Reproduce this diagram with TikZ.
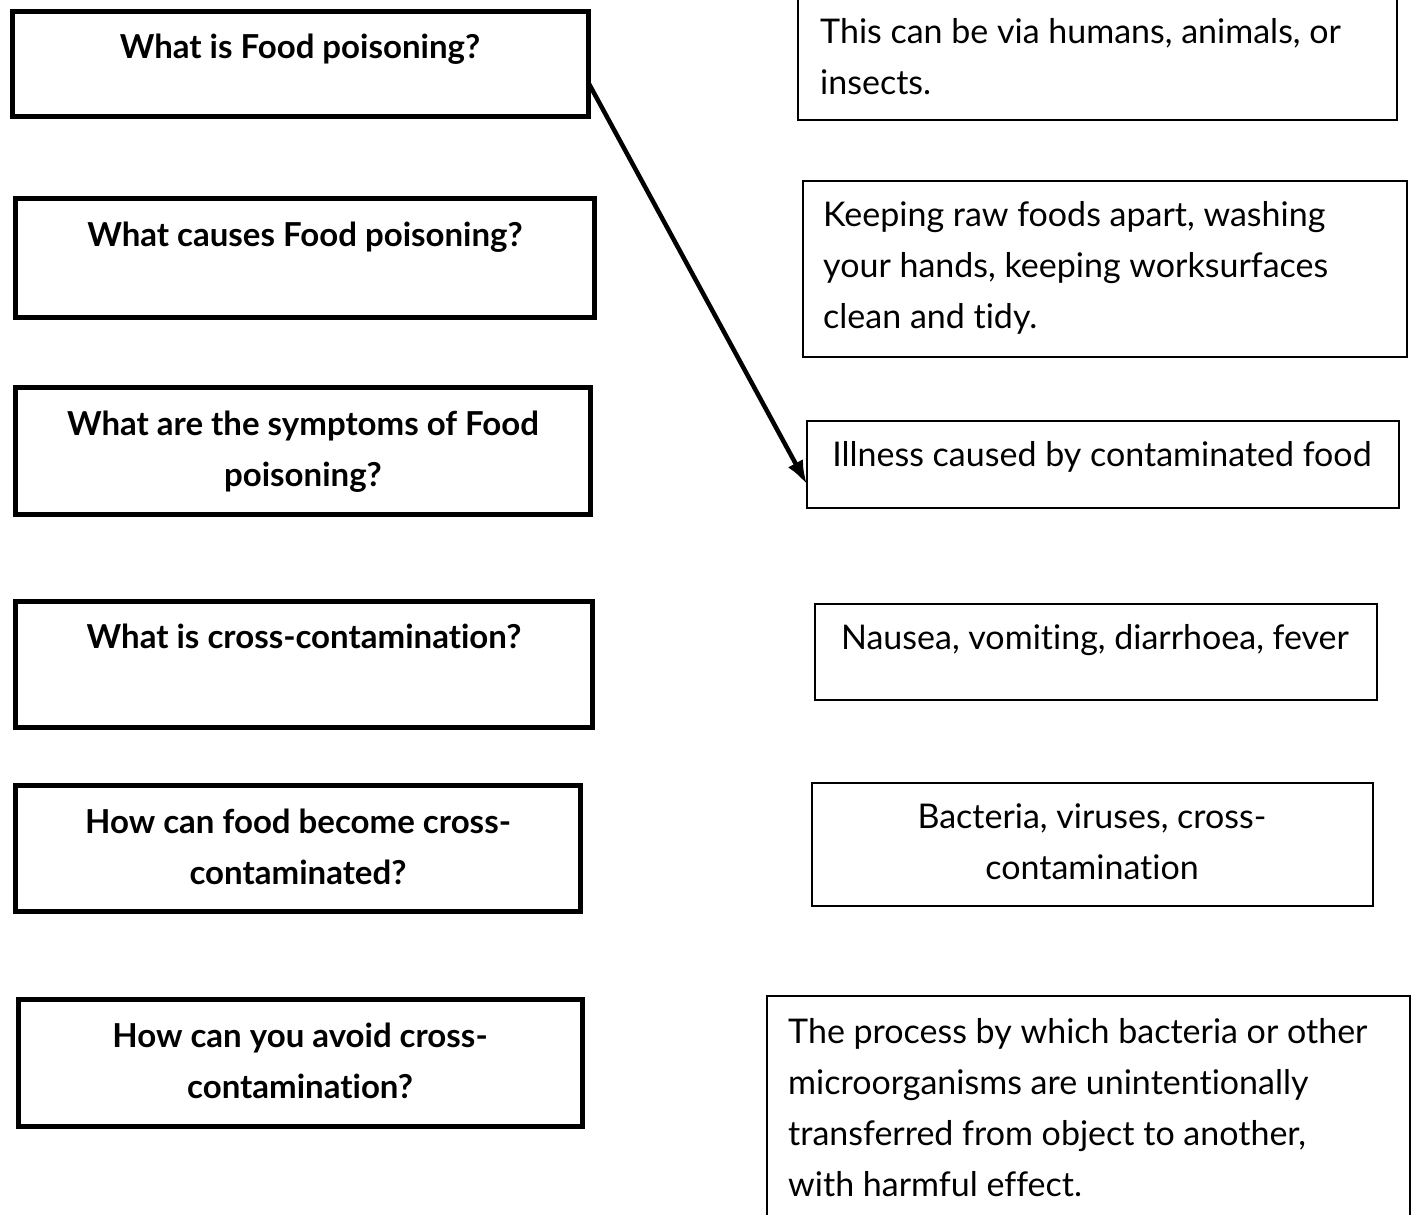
\documentclass[tikz,border=0pt]{standalone}
\usepackage{fontspec}
\setmainfont{Lato}[Ligatures=NoCommon]
\usetikzlibrary{arrows.meta}
\begin{document}
\begin{tikzpicture}[x=1pt,y=-1pt,
  qbox/.style={draw=black,line width=5pt,inner sep=0pt,outer sep=0pt},
  abox/.style={draw=black,line width=1.6pt,inner sep=0pt,outer sep=0pt},
  qtext/.style={font=\fontsize{33}{51}\selectfont\bfseries,align=center,inner sep=0pt,anchor=base},
  atext/.style={font=\fontsize{34}{51}\selectfont,inner sep=0pt},
  link/.style={line width=4.5pt,-{Latex[length=24pt,width=17pt]}}
]
\useasboundingbox (0,0) rectangle (1416,1215);
\clip (0,0) rectangle (1416,1215);
% question boxes (left)
\node[qbox,minimum width=576,minimum height=104] (q1) at (300,64) {};
\node[qbox,minimum width=579,minimum height=119] (q2) at (304.5,257.5) {};
\node[qbox,minimum width=575,minimum height=127] (q3) at (302.5,450.5) {};
\node[qbox,minimum width=577,minimum height=126] (q4) at (303.5,664) {};
\node[qbox,minimum width=565,minimum height=126] (q5) at (297.5,848) {};
\node[qbox,minimum width=564,minimum height=127] (q6) at (300,1062.5) {};
% (multi-line nodes: anchor base = baseline of the last line)
\node[qtext] (q1t) at (300,59) {What is Food poisoning?};
\node[qtext] (q2t) at (305,246) {What causes Food poisoning?};
\node[qtext] (q3t) at (303,486) {What are the symptoms of Food\\poisoning?};
\node[qtext] (q4t) at (304,648) {What is cross-contamination?};
\node[qtext] (q5t) at (298,884) {How can food become cross-\\contaminated?};
\node[qtext] (q6t) at (300,1098) {How can you avoid cross-\\contamination?};
% answer boxes (right)
\node[abox,minimum width=599,minimum height=125] (a1) at (1097.5,57.5) {};
\node[abox,minimum width=604,minimum height=176] (a2) at (1105,269) {};
\node[abox,minimum width=592,minimum height=87] (a3) at (1103,464.5) {};
\node[abox,minimum width=562,minimum height=96] (a4) at (1096,652) {};
\node[abox,minimum width=561,minimum height=123] (a5) at (1092.5,844.5) {};
\node[abox,minimum width=643,minimum height=229] (a6) at (1088.5,1110.5) {};
\node[atext,align=left,anchor=base west] (a1t) at (820,94) {This can be via humans, animals, or\\insects.};
\node[atext,align=left,anchor=base west] (a2t) at (823,328) {Keeping raw foods apart, washing\\your hands, keeping worksurfaces\\clean and tidy.};
\node[atext,align=center,anchor=base] (a3t) at (1102,466) {Illness caused by contaminated food};
\node[atext,align=center,anchor=base] (a4t) at (1095,649) {Nausea, vomiting, diarrhoea, fever};
\node[atext,align=center,anchor=base] (a5t) at (1092,879) {Bacteria, viruses, cross-\\contamination};
\node[atext,align=left,anchor=base west] (a6t) at (788,1196) {The process by which bacteria or other\\microorganisms are unintentionally\\transferred from object to another,\\with harmful effect.};
% connector
\draw[link] ([yshift=-18pt]q1.east) -- ([yshift=-20pt]a3.west);
\end{tikzpicture}
\end{document}
